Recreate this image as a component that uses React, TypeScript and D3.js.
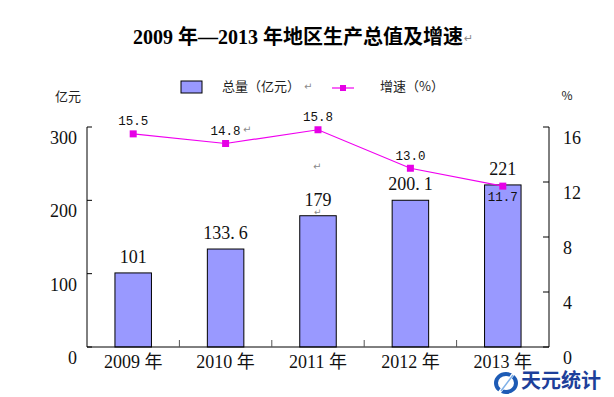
import React from 'react';
import * as d3 from 'd3';

// chart values
const years = ['2009 年', '2010 年', '2011 年', '2012 年', '2013 年'];
const totals = [101, 133.6, 179, 200.1, 221];
const totalLabels = ['101', '133.6', '179', '200.1', '221'];
const growth = [15.5, 14.8, 15.8, 13.0, 11.7];
const growthLabels = ['15.5', '14.8', '15.8', '13.0', '11.7'];
const leftTicks = [0, 100, 200, 300];
const rightTicks = [0, 4, 8, 12, 16];

const W = 614, H = 397;
const left = 87, right = 549, top = 127, bottom = 347;

const serif = "'Liberation Serif', 'Noto Sans CJK SC', serif";
const cjk = "'Noto Sans CJK SC', sans-serif";
const mono = "'Liberation Mono', 'DejaVu Sans Mono', monospace";

const BAR = '#9999FF';
const LINE = '#F000F0';
const MARK = '#E600E6';
const PARA = '#8a8a8a';

// value label with the wide period as in the original
function ValueText(props: { x: number; y: number; t: string }) {
  const parts = props.t.split('.');
  return (
    <text x={props.x} y={props.y} textAnchor="middle" dominantBaseline="middle"
      fontFamily={serif} fontSize={18} fill="#111">
      {parts[0]}
      {parts.length > 1 ? <tspan>.</tspan> : null}
      {parts.length > 1 ? <tspan dx={4}>{parts[1]}</tspan> : null}
    </text>
  );
}

export default function App() {
  const x = d3.scaleBand<string>().domain(years).range([left, right]).padding(0);
  const yL = d3.scaleLinear().domain([0, 300]).range([bottom, top]);
  const yR = d3.scaleLinear().domain([0, 16]).range([bottom, top]);
  const barW = x.bandwidth() * 0.395;
  const cx = (d: string) => (x(d) as number) + x.bandwidth() / 2;

  const line = d3.line<number>()
    .x((_, i) => cx(years[i]))
    .y(d => yR(d));

  const innerBounds = years.slice(1).map(d => x(d) as number);

  return (
    <svg width={W} height={H} style={{ position: 'absolute', left: 0, top: 0, background: '#fff' }}>
      {/* title */}
      <text x={133} y={39} dominantBaseline="middle" fontFamily={serif} fontWeight="bold" fontSize={20} fill="#000">
        2009 年—2013 年地区生产总值及增速
        <tspan fontSize={11} fontWeight="normal" fill={PARA} fontFamily="'DejaVu Sans'" dx={1}>↵</tspan>
      </text>

      {/* legend */}
      <rect x={181} y={81} width={21} height={12} fill={BAR} stroke="#000" strokeWidth={1} />
      <text x={222} y={87} dominantBaseline="middle" fontFamily={cjk} fontSize={13} fill="#222">
        总量（亿元）
        <tspan fontSize={10} fill={PARA} fontFamily="'DejaVu Sans'" dx={4}>↵</tspan>
      </text>
      <line x1={332} x2={354} y1={88} y2={88} stroke={LINE} strokeWidth={1.2} />
      <rect x={340} y={85} width={6} height={6} fill={MARK} />
      <text x={380} y={87} dominantBaseline="middle" fontFamily={cjk} fontSize={13} fill="#222">增速（%）</text>

      {/* axis units */}
      <text x={68} y={97} textAnchor="middle" dominantBaseline="middle" fontFamily={cjk} fontSize={13} fill="#222">亿元</text>
      <text x={567} y={97} textAnchor="middle" dominantBaseline="middle" fontFamily={cjk} fontSize={12} fill="#222">%</text>

      {/* bars */}
      {totals.map((v, i) => (
        <rect key={years[i]} x={cx(years[i]) - barW / 2} y={yL(v)} width={barW} height={bottom - yL(v)}
          fill={BAR} stroke="#000" strokeWidth={1} />
      ))}
      {totals.map((v, i) => (
        <ValueText key={'v' + i} x={cx(years[i])} y={yL(v) - 14} t={totalLabels[i]} />
      ))}

      {/* axes */}
      <line x1={left} x2={left} y1={top} y2={bottom} stroke="#000" />
      <line x1={right} x2={right} y1={top} y2={bottom} stroke="#000" />
      <line x1={left} x2={right} y1={bottom} y2={bottom} stroke="#000" />
      {leftTicks.map(t => (
        <g key={'l' + t}>
          <line x1={left} x2={left + 5} y1={yL(t)} y2={yL(t)} stroke="#000" />
          <text x={77} y={yL(t) + 13} textAnchor="end" dominantBaseline="middle" fontFamily={serif} fontSize={18} fill="#111">{t}</text>
        </g>
      ))}
      {rightTicks.map(t => (
        <g key={'r' + t}>
          <line x1={right - 6} x2={right} y1={yR(t)} y2={yR(t)} stroke="#000" />
          <text x={563} y={yR(t) + 13} textAnchor="start" dominantBaseline="middle" fontFamily={serif} fontSize={18} fill="#111">{t}</text>
        </g>
      ))}
      {innerBounds.map((b, i) => (
        <line key={'b' + i} x1={b} x2={b} y1={bottom} y2={bottom - 7} stroke="#555" />
      ))}
      {years.map(d => (
        <text key={d} x={cx(d)} y={364} textAnchor="middle" dominantBaseline="middle" fontFamily={serif} fontSize={18} fill="#111">{d}</text>
      ))}

      {/* growth line */}
      <path d={line(growth) || ''} fill="none" stroke={LINE} strokeWidth={1.2} />
      {growth.map((v, i) => (
        <rect key={'m' + i} x={cx(years[i]) - 3.5} y={yR(v) - 3.5} width={7} height={7} fill={MARK} />
      ))}
      {growth.map((v, i) => (
        <text key={'g' + i} x={cx(years[i])} y={yR(v) + (i === growth.length - 1 ? 12 : -12)}
          textAnchor="middle" dominantBaseline="middle" fontFamily={mono} fontSize={12.5} fill="#111">
          {growthLabels[i]}
        </text>
      ))}

      {/* stray paragraph marks from the source document */}
      <text x={243} y={130} dominantBaseline="middle" fontFamily="'DejaVu Sans'" fontSize={10} fill={PARA}>↵</text>
      <text x={313} y={167} dominantBaseline="middle" fontFamily="'DejaVu Sans'" fontSize={10} fill={PARA}>↵</text>
      <text x={314} y={212} dominantBaseline="middle" fontFamily="'DejaVu Sans'" fontSize={9} fill={PARA}>↵</text>

      {/* logo */}
      <g>
        <ellipse cx={506} cy={383} rx={10} ry={9} fill="none" stroke="#1d5bb5" strokeWidth={4} />
        <line x1={499} y1={393} x2={514} y2={373} stroke="#fff" strokeWidth={3} />
        <line x1={501} y1={391} x2={513} y2={375} stroke="#7fb0e8" strokeWidth={1.5} />
        <text x={521} y={383} dominantBaseline="middle" fontFamily={cjk} fontWeight="bold" fontSize={20} fill="#1d3f9a">天元统计</text>
      </g>
    </svg>
  );
}
